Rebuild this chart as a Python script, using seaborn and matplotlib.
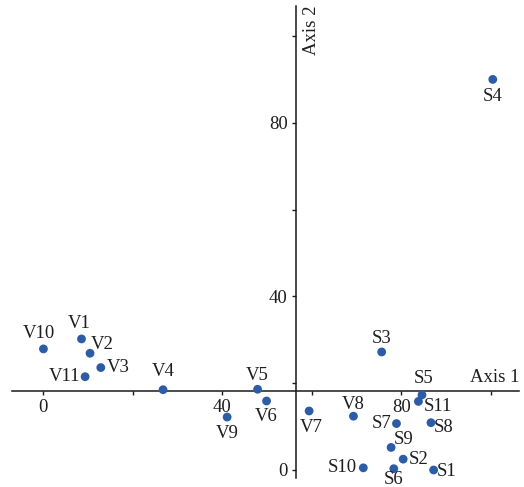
import matplotlib
matplotlib.use("Agg")
import matplotlib.pyplot as plt
import seaborn as sns
import pandas as pd

# ---- data ----
labels = ["V1", "V2", "V3", "V4", "V5", "V6", "V7", "V8", "V9", "V10", "V11",
          "S1", "S2", "S3", "S4", "S5", "S6", "S7", "S8", "S9", "S10", "S11"]
axis1 = [8.6, 10.5, 12.9, 26.8, 47.9, 49.9, 59.4, 69.3, 41.1, 0.1, 9.4,
         87.2, 80.4, 75.6, 100.4, 84.6, 78.3, 78.9, 86.6, 77.7, 71.5, 83.8]
axis2 = [30.2, 26.9, 23.6, 18.5, 18.6, 15.9, 13.6, 12.4, 12.2, 27.9, 21.5,
         0.0, 2.5, 27.2, 90.0, 17.3, 0.3, 10.7, 10.9, 5.2, 0.5, 15.8]
tick_values = [0, 20, 40, 60, 80, 100]
tick_labels = ["0", "", "40", "", "80", ""]
axis_cross_x = 56.5
axis_cross_y = 18.3

# label offsets (pixels) relative to each point
label_offsets = {
    "V1": (-2, -15), "V2": (12, -9), "V3": (17, 0), "V4": (0, -18),
    "V5": (0, -14), "V6": (0, 16), "V7": (2, 17), "V8": (0, -12),
    "V9": (0, 16), "V10": (-5, -15), "V11": (-21, 0),
    "S1": (13, 2), "S2": (15, 0), "S3": (0, -13), "S4": (0, 17),
    "S5": (2, -16), "S6": (0, 11), "S7": (-15, 0), "S8": (13, 5),
    "S9": (13, -8), "S10": (-21, 0), "S11": (20, 5),
}

df = pd.DataFrame({"label": labels, "Axis 1": axis1, "Axis 2": axis2})

sns.set_theme(style="white")
plt.rcParams["font.family"] = ["Liberation Serif", "DejaVu Serif"]

fig = plt.figure(figsize=(5.24, 4.87), dpi=100)
ax = fig.add_axes([0, 0, 1, 1])
ax.set_facecolor("white")

sns.scatterplot(data=df, x="Axis 1", y="Axis 2", ax=ax, color="#2a5caa",
                s=40, edgecolor="none", zorder=3, legend=False)

FS = 13.5
TXT = "#1e1e1e"
for lab, x, y in zip(labels, axis1, axis2):
    dx, dy = label_offsets[lab]
    ax.annotate(lab, (x, y), xytext=(dx, -dy), textcoords="offset pixels",
                ha="center", va="center", fontsize=FS, color=TXT)

ax.set_xlim(-43 / 4.48, (524 - 43) / 4.48)
ax.set_ylim(-17 / 4.34, 470 / 4.34)

for s in ["top", "right"]:
    ax.spines[s].set_visible(False)
ax.spines["left"].set_position(("data", axis_cross_x))
ax.spines["bottom"].set_position(("data", axis_cross_y))
ax.spines["left"].set_bounds(-1.85, 106.9)
ax.spines["bottom"].set_bounds(-6.9, 106.3)
for s in ["left", "bottom"]:
    ax.spines[s].set_color("#1a1a1a")
    ax.spines[s].set_linewidth(1.1)

ax.set_xticks(tick_values)
ax.set_xticklabels(tick_labels)
ax.set_yticks(tick_values)
ax.set_yticklabels(tick_labels)
ax.tick_params(axis="both", which="major", direction="out", length=3, width=1.0,
               color="#1a1a1a", labelsize=FS, labelcolor=TXT, pad=3,
               bottom=True, left=True)
ax.set_xlabel("")
ax.set_ylabel("")
ax.grid(False)

ax.text(100.8, 21.2, "Axis 1", ha="center", va="center", fontsize=FS, color=TXT)
ax.text(60.0, 101.4, "Axis 2", ha="center", va="center", fontsize=FS, color=TXT,
        rotation=90)

fig.savefig("out.png", dpi=100)
